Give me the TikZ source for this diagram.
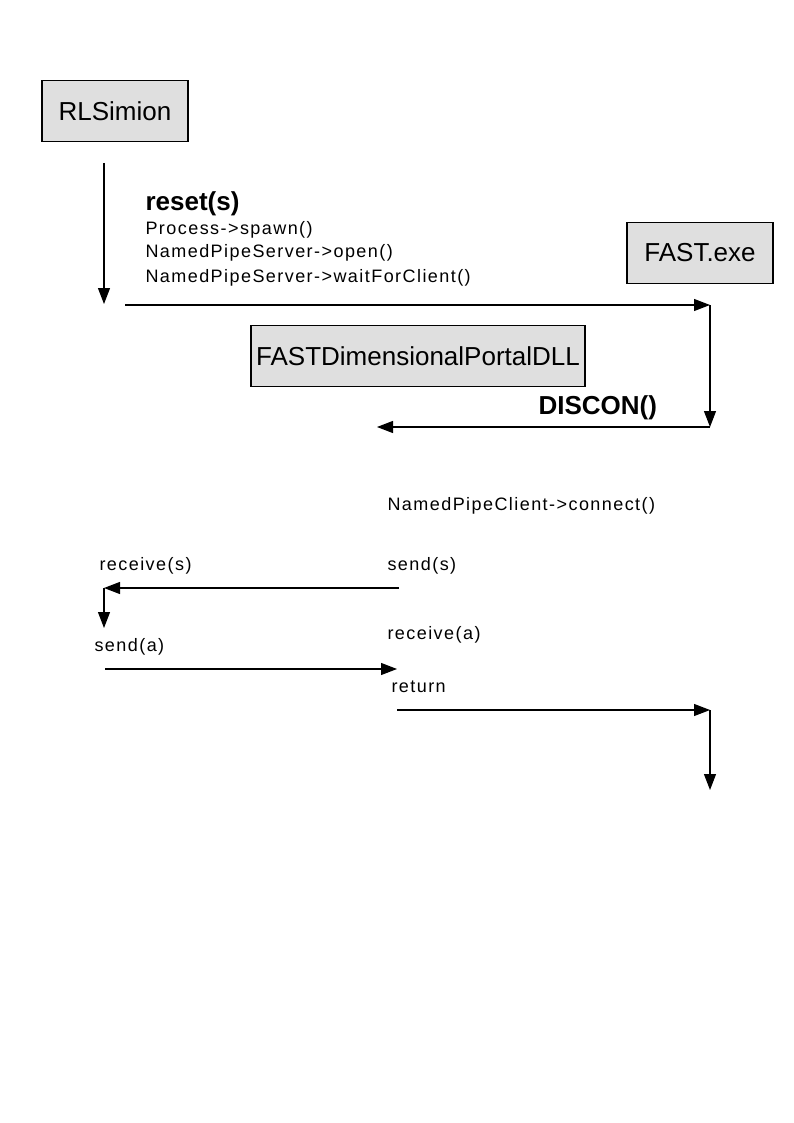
\documentclass[tikz,border=0pt]{standalone}
\usepackage{fontspec}
\setmainfont{Liberation Sans}
\newfontfamily\callfont[LetterSpace=8]{Liberation Sans}
\usetikzlibrary{arrows.meta}

\begin{document}
\begin{tikzpicture}[x=1pt,y=-1pt,line width=1.1pt,-{Triangle[length=16pt,width=12pt]}]
  \tikzstyle{module}=[draw, fill=gray!25, minimum width=146pt, minimum height=61pt, inner sep=0pt, font=\fontsize{26}{30}\selectfont]
  \tikzstyle{call}=[anchor=base west, inner sep=0pt, font=\callfont\fontsize{18}{21}\selectfont]
  \tikzstyle{bigcall}=[anchor=base west, inner sep=0pt, font=\fontsize{26}{30}\selectfont\bfseries]
  \useasboundingbox[fill=white] (0,0) rectangle (794,1123);

  \node[module] (RL)   at (115,111) {RLSimion};
  \node[module] (FAST) at (700,253) {FAST.exe};
  \node[module, minimum width=334pt] (DLL) at (418,356) {FASTDimensionalPortalDLL};

  \node[bigcall] (reset) at (145,211) {reset(s)};
  \node[call] (spawn) at (145,235) {Process->spawn()};
  \node[call] (open)  at (145,258) {NamedPipeServer->open()};
  \node[call] (wait)  at (145,282) {NamedPipeServer->waitForClient()};
  \node[bigcall] (discon) at (538,414) {DISCON()};
  \node[call] (connect) at (387,510) {NamedPipeClient->connect()};
  \node[call] (recvs) at (99,570)  {receive(s)};
  \node[call] (sends) at (387,570) {send(s)};
  \node[call] (recva) at (387,639) {receive(a)};
  \node[call] (senda) at (94,651)  {send(a)};
  \node[call] (ret)   at (391,692) {return};

  \coordinate (A1) at (104,163);
  \coordinate (A2) at (104,304);
  \coordinate (B1) at (125,305);
  \coordinate (B2) at (710,305);
  \coordinate (C2) at (710,427);
  \coordinate (C3) at (377,427);
  \coordinate (D1) at (399,588);
  \coordinate (D2) at (104,588);
  \coordinate (D3) at (104,628);
  \coordinate (E1) at (105,669);
  \coordinate (E2) at (397,669);
  \coordinate (F1) at (397,710);
  \coordinate (F2) at (710,710);
  \coordinate (F3) at (710,790);

  \draw (A1) -- (A2);
  \draw (B1) -- (B2);
  \draw (B2) -- (C2);
  \draw (C2) -- (C3);
  \draw (D1) -- (D2);
  \draw (D2) -- (D3);
  \draw (E1) -- (E2);
  \draw (F1) -- (F2);
  \draw (F2) -- (F3);
\end{tikzpicture}
\end{document}
